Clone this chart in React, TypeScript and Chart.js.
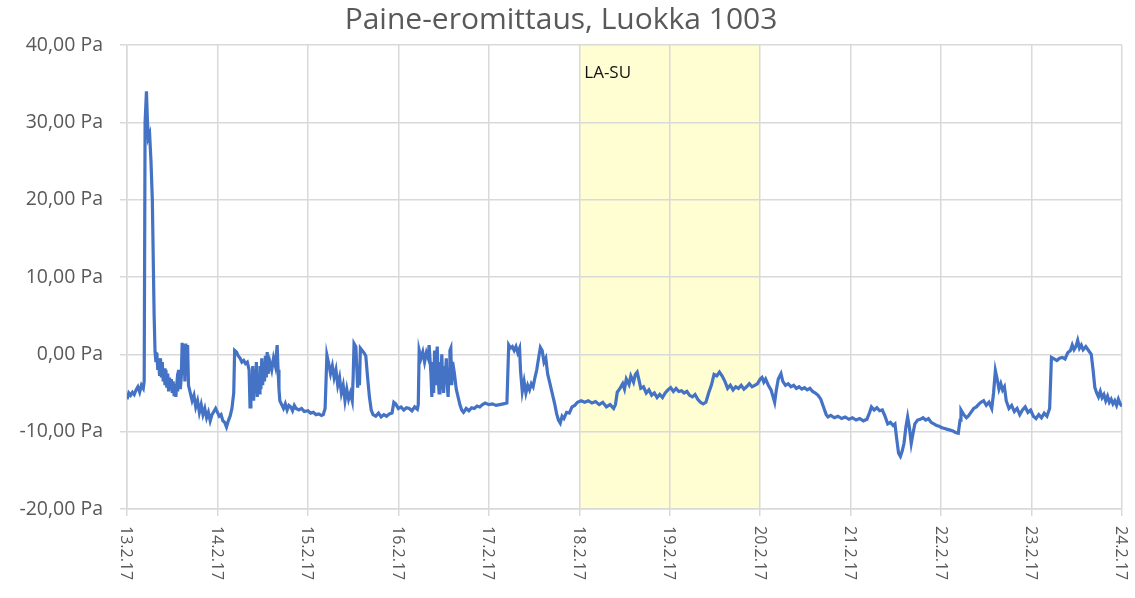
import React, { useEffect, useRef } from "react";
import { Chart, registerables } from "chart.js";

Chart.register(...registerables);

const TITLE = "Paine-eromittaus, Luokka 1003";
const BAND_LABEL = "LA-SU";
const dateLabels = ["13.2.17", "14.2.17", "15.2.17", "16.2.17", "17.2.17", "18.2.17", "19.2.17", "20.2.17", "21.2.17", "22.2.17", "23.2.17", "24.2.17"];
const yTicks = [-20, -10, 0, 10, 20, 30, 40];
const bandStart = 5; // 18.2.17
const bandEnd = 7; // 20.2.17

// time in days since 13.2.17 00:00
const days = [
  0.00, 0.02, 0.04, 0.06, 0.08, 0.10, 0.12, 0.14, 0.16, 0.18, 0.19, 0.20, 0.215, 0.225, 0.235, 0.25, 0.265, 0.28, 0.30, 0.31,
  0.32, 0.33, 0.34, 0.35, 0.36, 0.37, 0.38, 0.39, 0.40, 0.41, 0.42, 0.43, 0.44, 0.45, 0.46, 0.47, 0.48, 0.49, 0.50, 0.51,
  0.52, 0.53, 0.54, 0.55, 0.56, 0.57, 0.59, 0.60, 0.61, 0.62, 0.63, 0.64, 0.65, 0.66, 0.67, 0.68, 0.70, 0.72, 0.74, 0.76,
  0.78, 0.80, 0.82, 0.84, 0.86, 0.88, 0.90, 0.92, 0.94, 0.96, 0.98, 1.00, 1.02, 1.04, 1.06, 1.08, 1.10, 1.12, 1.14, 1.16,
  1.18, 1.19, 1.21, 1.23, 1.25, 1.27, 1.29, 1.31, 1.33, 1.35, 1.36, 1.37, 1.38, 1.39, 1.40, 1.41, 1.42, 1.43, 1.44, 1.45,
  1.46, 1.47, 1.48, 1.49, 1.50, 1.51, 1.52, 1.53, 1.54, 1.55, 1.56, 1.58, 1.60, 1.62, 1.64, 1.66, 1.67, 1.68, 1.69, 1.71,
  1.73, 1.75, 1.77, 1.79, 1.81, 1.83, 1.85, 1.87, 1.90, 1.93, 1.96, 2.00, 2.03, 2.06, 2.09, 2.12, 2.15, 2.17, 2.19, 2.21,
  2.23, 2.25, 2.27, 2.29, 2.31, 2.33, 2.35, 2.37, 2.39, 2.41, 2.43, 2.45, 2.47, 2.49, 2.50, 2.51, 2.53, 2.55, 2.56, 2.57,
  2.58, 2.60, 2.62, 2.64, 2.66, 2.68, 2.70, 2.72, 2.75, 2.78, 2.81, 2.84, 2.87, 2.90, 2.93, 2.95, 2.97, 3.00, 3.03, 3.06,
  3.09, 3.12, 3.15, 3.18, 3.21, 3.22, 3.23, 3.25, 3.27, 3.29, 3.31, 3.33, 3.34, 3.36, 3.37, 3.38, 3.39, 3.40, 3.41, 3.42,
  3.43, 3.44, 3.45, 3.46, 3.47, 3.48, 3.49, 3.50, 3.51, 3.52, 3.53, 3.54, 3.55, 3.56, 3.57, 3.58, 3.59, 3.60, 3.62, 3.64,
  3.66, 3.68, 3.70, 3.72, 3.75, 3.78, 3.81, 3.84, 3.87, 3.90, 3.93, 3.96, 4.00, 4.04, 4.08, 4.12, 4.16, 4.20, 4.22, 4.24,
  4.26, 4.28, 4.30, 4.32, 4.34, 4.35, 4.37, 4.39, 4.41, 4.43, 4.45, 4.47, 4.49, 4.51, 4.53, 4.55, 4.57, 4.59, 4.61, 4.63,
  4.65, 4.67, 4.69, 4.71, 4.73, 4.75, 4.77, 4.79, 4.81, 4.83, 4.86, 4.89, 4.92, 4.95, 4.98, 5.02, 5.06, 5.10, 5.14, 5.18,
  5.22, 5.26, 5.30, 5.34, 5.38, 5.40, 5.42, 5.45, 5.48, 5.50, 5.52, 5.55, 5.57, 5.60, 5.62, 5.64, 5.66, 5.68, 5.71, 5.74,
  5.77, 5.80, 5.83, 5.86, 5.89, 5.92, 5.95, 5.98, 6.01, 6.04, 6.07, 6.10, 6.13, 6.16, 6.19, 6.22, 6.25, 6.28, 6.31, 6.34,
  6.37, 6.40, 6.43, 6.46, 6.49, 6.52, 6.55, 6.58, 6.61, 6.64, 6.67, 6.70, 6.73, 6.76, 6.79, 6.82, 6.85, 6.88, 6.91, 6.94,
  6.97, 7.00, 7.02, 7.04, 7.06, 7.09, 7.12, 7.14, 7.16, 7.18, 7.20, 7.23, 7.25, 7.28, 7.31, 7.34, 7.37, 7.40, 7.43, 7.46,
  7.49, 7.52, 7.55, 7.58, 7.61, 7.64, 7.67, 7.70, 7.73, 7.75, 7.78, 7.82, 7.86, 7.90, 7.94, 7.98, 8.02, 8.06, 8.10, 8.14,
  8.18, 8.21, 8.23, 8.26, 8.29, 8.32, 8.35, 8.38, 8.41, 8.44, 8.47, 8.49, 8.51, 8.53, 8.55, 8.57, 8.59, 8.61, 8.63, 8.65,
  8.67, 8.69, 8.71, 8.74, 8.77, 8.80, 8.83, 8.86, 8.89, 8.92, 8.95, 8.98, 9.01, 9.04, 9.07, 9.10, 9.13, 9.16, 9.19, 9.21,
  9.22, 9.25, 9.28, 9.30, 9.33, 9.36, 9.39, 9.42, 9.44, 9.47, 9.50, 9.53, 9.56, 9.58, 9.60, 9.62, 9.64, 9.66, 9.68, 9.70,
  9.72, 9.75, 9.78, 9.81, 9.84, 9.87, 9.90, 9.93, 9.96, 9.99, 10.02, 10.05, 10.08, 10.11, 10.14, 10.17, 10.20, 10.22, 10.25, 10.28,
  10.31, 10.34, 10.37, 10.40, 10.43, 10.45, 10.47, 10.49, 10.51, 10.53, 10.55, 10.57, 10.60, 10.63, 10.66, 10.68, 10.70, 10.72, 10.74, 10.76,
  10.78, 10.80, 10.82, 10.84, 10.86, 10.88, 10.90, 10.92, 10.94, 10.96, 10.98, 11.00,
];

const pressure = [
  -5.8, -5.0, -5.3, -4.9, -5.2, -4.6, -4.2, -4.9, -4.0, -4.4, -3.5, 30.0, 34.0, 30.5, 28.0, 28.5, 25.0, 20.0, 5.0, 0.3,
  -1.0, 0.2, -2.0, -0.8, -2.8, -0.5, -3.0, -1.0, -3.5, -1.8, -4.0, -2.0, -4.3, -2.5, -4.8, -3.0, -4.5, -3.2, -5.0, -3.5,
  -5.2, -3.8, -5.5, -4.0, -4.8, -2.0, -4.5, -3.0, 1.5, -2.5, 1.3, -3.5, 1.4, -2.0, 1.2, -4.0, -5.0, -6.0, -5.3, -6.8,
  -6.0, -7.5, -6.5, -7.8, -7.0, -8.2, -7.5, -8.6, -7.8, -7.4, -7.0, -7.5, -8.0, -7.8, -8.6, -8.8, -9.4, -8.6, -8.0, -7.0,
  -5.0, 0.5, 0.3, -0.2, -0.5, -1.0, -0.8, -1.2, -1.0, -2.0, -6.8, -3.0, -5.5, -1.5, -6.0, -2.0, -5.0, -1.0, -5.5, -2.5,
  -5.0, -1.5, -4.5, -0.5, -4.0, -1.0, -3.5, -0.2, -3.0, 0.3, -2.5, -1.0, -2.0, -0.5, -1.5, 1.2, -2.0, -4.5, -6.0, -6.5,
  -7.0, -6.4, -7.2, -6.6, -6.8, -7.3, -6.6, -7.0, -7.2, -7.0, -7.4, -7.3, -7.6, -7.5, -7.8, -7.7, -7.9, -7.8, -7.0, -0.1,
  -1.2, -2.5, -1.5, -3.0, -2.0, -4.0, -3.0, -5.0, -4.0, -6.0, -4.5, -5.8, -5.0, -6.0, -3.0, 1.4, 1.0, -4.3, -2.0, -4.0,
  0.8, 0.5, 0.2, -0.2, -3.0, -5.5, -7.2, -7.8, -8.0, -7.6, -8.1, -7.8, -8.0, -7.7, -7.6, -6.2, -6.4, -7.0, -6.8, -7.2,
  -6.9, -7.0, -7.3, -6.8, -7.1, -6.5, 0.5, -0.5, 0.3, -1.0, 0.2, -0.5, 1.2, -2.5, -5.5, -1.0, -5.0, 0.5, -4.0, -0.5,
  1.0, -3.0, -5.0, -1.0, -4.5, 0.0, -3.5, -5.0, -1.5, -3.0, -0.5, -4.0, -5.5, -2.0, 0.5, 0.8, -4.0, -1.0, -2.5, -4.5,
  -5.5, -6.5, -7.2, -7.5, -7.0, -7.3, -6.9, -7.0, -6.7, -6.8, -6.5, -6.3, -6.5, -6.4, -6.6, -6.5, -6.4, -6.3, 1.2, 0.8,
  1.0, 0.5, 1.0, 0.2, 0.8, -2.0, -4.8, -3.5, -5.0, -4.0, -4.6, -3.8, -4.2, -3.0, -2.0, -0.5, 0.9, 0.5, -1.0, -0.5,
  -2.5, -3.5, -4.5, -5.5, -6.5, -7.7, -8.5, -8.9, -8.0, -8.3, -7.5, -7.6, -6.8, -6.6, -6.2, -6.0, -6.2, -6.0, -6.3, -6.1,
  -6.5, -6.2, -6.8, -6.5, -7.0, -6.5, -4.9, -4.4, -3.8, -4.5, -3.2, -3.9, -2.8, -3.6, -2.6, -2.3, -3.3, -4.4, -4.2, -5.0,
  -4.6, -5.3, -5.0, -5.6, -5.2, -5.6, -5.0, -4.6, -4.3, -4.8, -4.4, -4.8, -4.7, -5.0, -4.8, -5.3, -5.5, -5.2, -5.8, -6.2,
  -6.4, -6.2, -5.0, -4.0, -2.6, -2.8, -2.3, -2.8, -3.5, -4.4, -4.0, -4.6, -4.2, -4.4, -4.0, -4.5, -4.2, -3.8, -4.2, -4.0,
  -3.8, -3.2, -3.0, -3.6, -3.2, -4.0, -4.6, -5.4, -6.2, -4.5, -3.2, -2.5, -3.5, -4.0, -3.8, -4.2, -4.0, -4.4, -4.2, -4.5,
  -4.3, -4.6, -4.4, -4.8, -5.0, -5.3, -5.8, -6.8, -7.8, -8.1, -7.9, -8.2, -8.0, -8.3, -8.1, -8.4, -8.2, -8.5, -8.3, -8.6,
  -8.4, -7.5, -6.8, -7.2, -6.9, -7.3, -7.2, -8.0, -9.0, -8.8, -9.2, -9.0, -11.0, -12.8, -13.2, -12.5, -11.5, -9.5, -8.1, -9.5,
  -11.5, -10.2, -9.0, -8.5, -8.4, -8.2, -8.5, -8.3, -8.8, -9.0, -9.2, -9.3, -9.5, -9.6, -9.7, -9.8, -9.9, -10.1, -10.2, -8.5,
  -7.2, -7.8, -8.2, -8.0, -7.5, -7.0, -6.8, -6.4, -6.2, -6.0, -6.6, -6.2, -7.0, -5.0, -2.1, -3.2, -4.5, -3.8, -4.6, -4.2,
  -6.0, -7.0, -6.6, -7.4, -7.0, -7.8, -7.2, -6.8, -7.5, -7.2, -8.0, -8.3, -7.8, -8.2, -7.6, -8.0, -7.0, -0.4, -0.6, -0.8,
  -0.5, -0.4, -0.6, 0.2, 0.5, 1.2, 0.6, 1.0, 1.8, 0.8, 1.2, 0.6, 1.0, 0.5, 0.0, -2.0, -4.3, -5.0, -5.5, -4.8,
  -5.6, -5.2, -6.0, -5.4, -6.2, -5.8, -6.4, -6.0, -6.6, -5.8, -6.4, -6.7,
];

const TEXT = "#595959";
const GRID = "#d9d9d9";
const FONT = "'Open Sans', Lato, sans-serif";

const bandPlugin = {
  id: "band",
  beforeDraw(chart: any) {
    const { ctx, chartArea, scales } = chart;
    const x0 = scales.x.getPixelForValue(bandStart);
    const x1 = scales.x.getPixelForValue(bandEnd);
    ctx.save();
    ctx.fillStyle = "#fffdd2";
    ctx.fillRect(x0, chartArea.top, x1 - x0, chartArea.bottom - chartArea.top);
    ctx.fillStyle = "#111111";
    ctx.font = `17px ${FONT}`;
    ctx.textAlign = "left";
    ctx.textBaseline = "middle";
    ctx.fillText(BAND_LABEL, x0 + 5, chartArea.top + 28);
    ctx.restore();
  },
};

const xLabelPlugin = {
  id: "xlabels",
  afterDraw(chart: any) {
    const { ctx, chartArea, scales } = chart;
    ctx.save();
    ctx.fillStyle = TEXT;
    ctx.font = `16px ${FONT}`;
    ctx.textAlign = "left";
    ctx.textBaseline = "middle";
    dateLabels.forEach((lab, i) => {
      const x = scales.x.getPixelForValue(i);
      ctx.save();
      ctx.translate(x - 1, chartArea.bottom + 17);
      ctx.rotate(Math.PI / 2);
      ctx.fillText(lab, 0, 0);
      ctx.restore();
    });
    ctx.restore();
  },
};

export default function App() {
  const ref = useRef<HTMLCanvasElement | null>(null);
  useEffect(() => {
    if (!ref.current) return;
    const data = days.map((d, i) => ({ x: d, y: pressure[i] }));
    const chart = new Chart(ref.current, {
      type: "line",
      data: {
        datasets: [
          {
            data,
            borderColor: "#4472c4",
            borderWidth: 3.2,
            pointRadius: 0,
            tension: 0,
            fill: false,
          },
        ],
      },
      options: {
        animation: false,
        responsive: false,
        maintainAspectRatio: false,
        layout: { padding: { left: 0, right: 13, top: 0, bottom: 0 } },
        plugins: {
          legend: { display: false },
          tooltip: { enabled: false },
          title: {
            display: true,
            text: TITLE,
            color: TEXT,
            font: { family: FONT, size: 30, weight: "normal" },
            padding: { top: 2, bottom: 7 },
          },
        },
        scales: {
          x: {
            type: "linear",
            min: 0,
            max: 11,
            ticks: { stepSize: 1, display: false },
            grid: { color: GRID, lineWidth: 1.5, drawTicks: true, tickLength: 7 },
            border: { color: GRID, width: 1.5 },
            afterFit: (s: any) => {
              s.height = 89;
            },
          },
          y: {
            min: -20,
            max: 40,
            afterBuildTicks: (s: any) => {
              s.ticks = yTicks.map((v) => ({ value: v }));
            },
            ticks: {
              color: TEXT,
              font: { family: FONT, size: 19.5 },
              padding: 17,
              callback: (v: any) => Number(v).toFixed(2).replace(".", ",") + " Pa",
            },
            grid: { color: GRID, lineWidth: 1.5, drawTicks: true, tickLength: 7 },
            border: { color: GRID, width: 1.5 },
            afterFit: (s: any) => {
              s.width = 127;
            },
          },
        },
      },
      plugins: [bandPlugin, xLabelPlugin],
    });
    return () => chart.destroy();
  }, []);
  return (
    <div style={{ position: "fixed", left: 0, top: 0, width: 1135, height: 598, background: "#fff" }}>
      <canvas ref={ref} width={1135} height={598} style={{ display: "block", width: 1135, height: 598 }} />
    </div>
  );
}
